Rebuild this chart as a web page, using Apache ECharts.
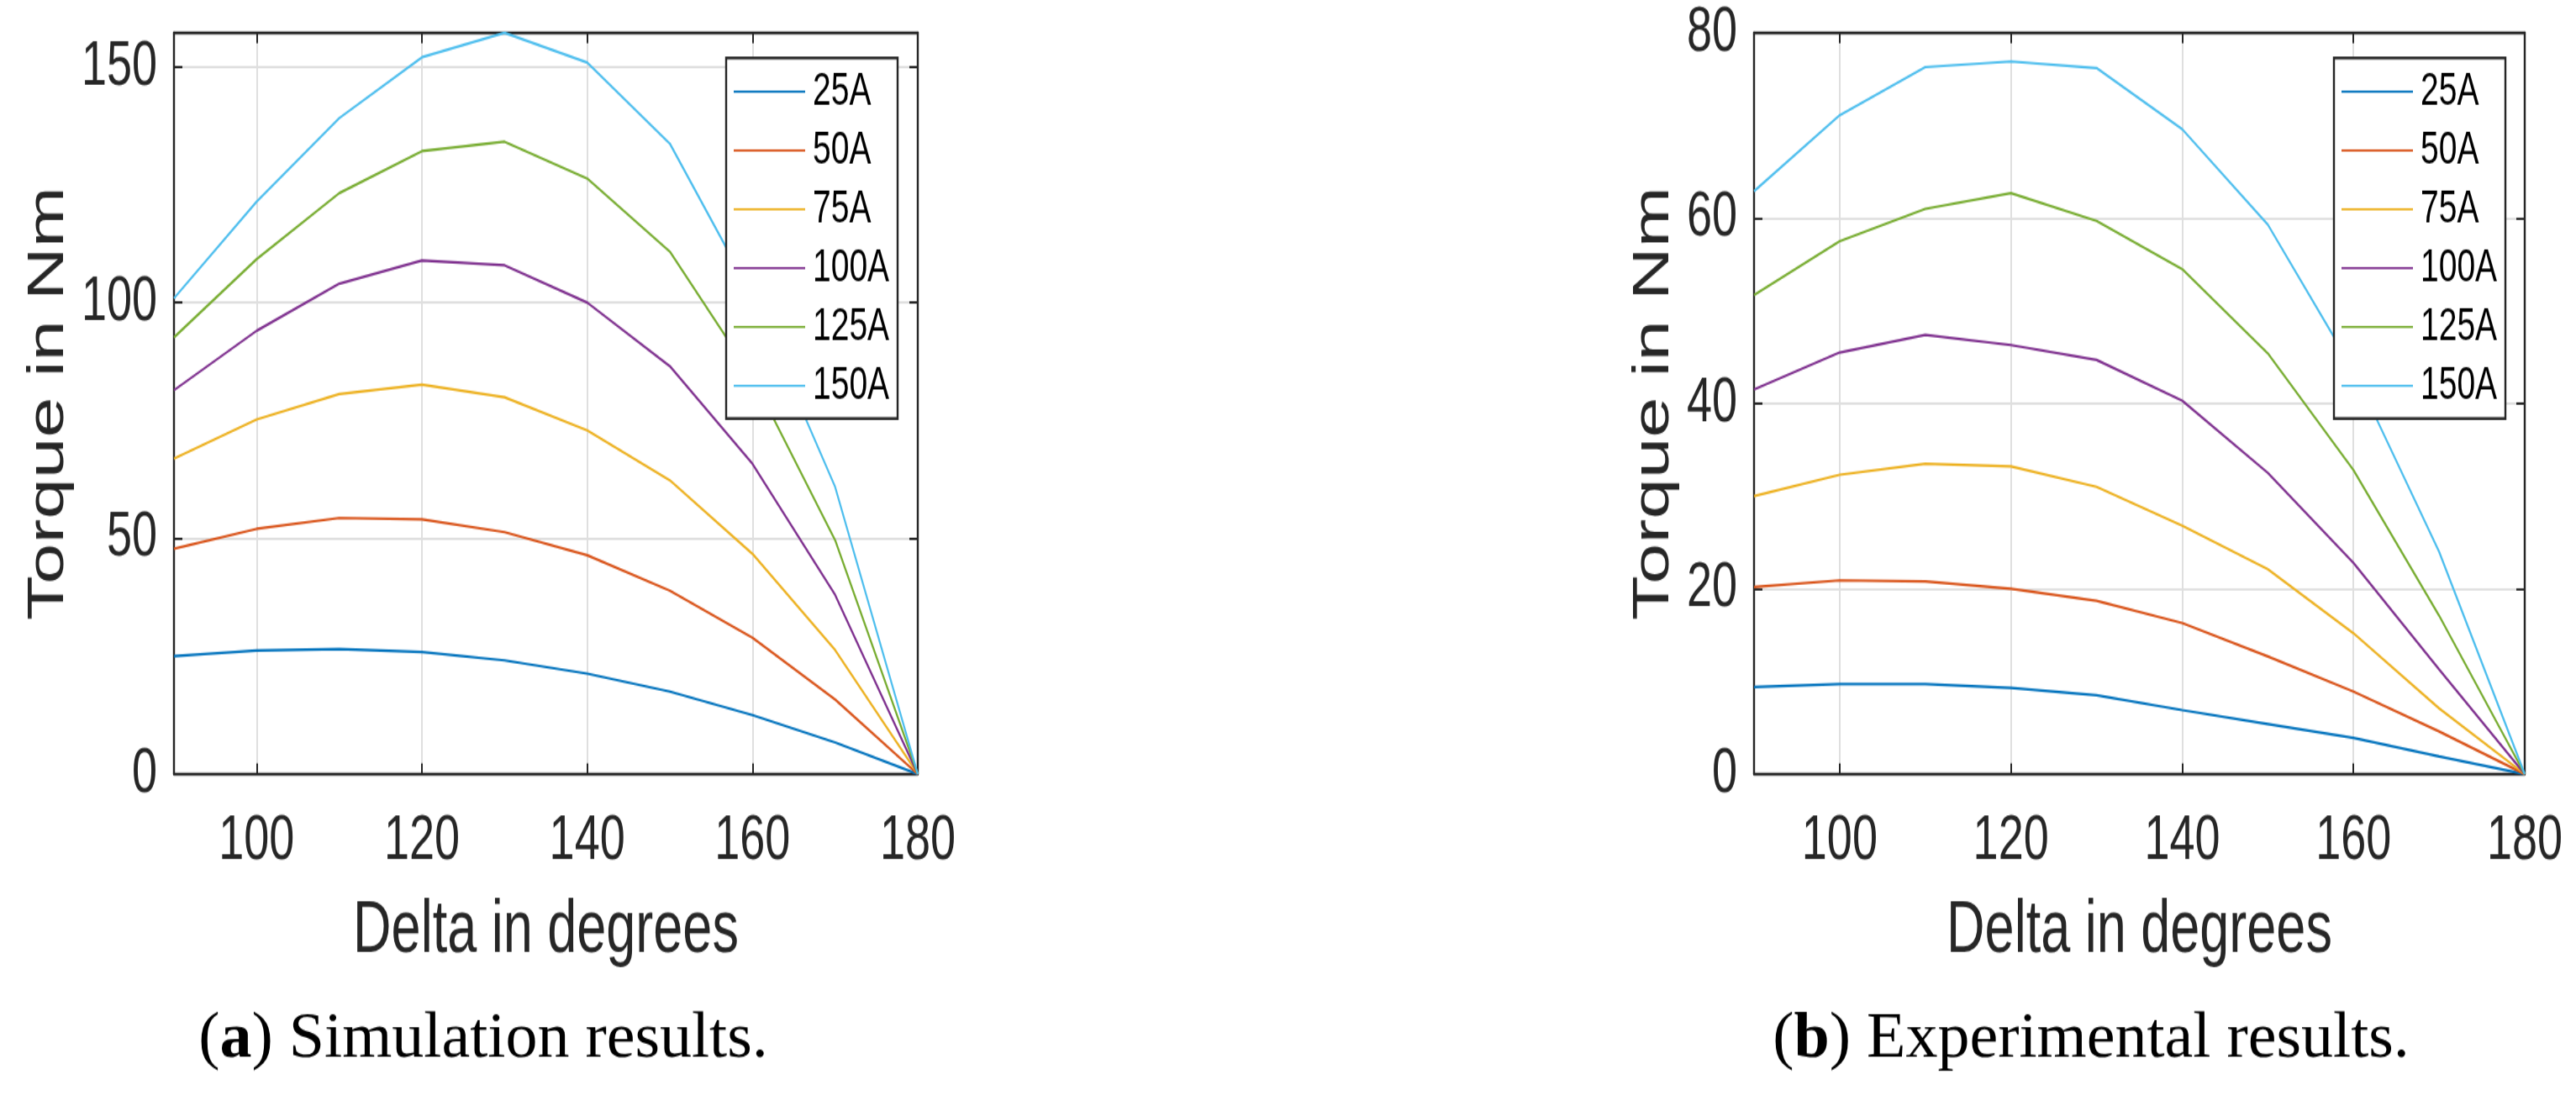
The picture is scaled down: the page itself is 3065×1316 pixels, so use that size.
<!DOCTYPE html>
<html>
<head>
<meta charset="utf-8">
<title>Torque vs delta</title>
<script src="https://cdn.jsdelivr.net/npm/echarts@6/dist/echarts.min.js"></script>
<style>
  html, body { margin: 0; padding: 0; background: #fff; }
  #page { width: 3065px; height: 1316px; overflow: hidden; position: relative; }
  /* the original figure is a vertically stretched MATLAB export,
     so the chart is drawn 1/1.4 as tall and stretched back */
  #main { width: 3065px; height: 940px; transform: scaleY(1.4); transform-origin: 0 0; }
</style>
</head>
<body>
<div id="page"><div id="main"></div></div>
<script>
var SY = 1.4; // vertical stretch

// load angle (deg) and current levels
var deltas = [90, 100, 110, 120, 130, 140, 150, 160, 170, 180];
var currents = ["25A", "50A", "75A", "100A", "125A", "150A"];
var xTicks = [100, 120, 140, 160, 180];
var simYTicks = [0, 50, 100, 150];
var expYTicks = [0, 20, 40, 60, 80];

// (a) simulation, torque in Nm
var sim25 = [25.0, 26.2, 26.5, 25.9, 24.1, 21.3, 17.5, 12.5, 6.7, 0];
var sim50 = [47.8, 52.0, 54.3, 54.0, 51.3, 46.4, 38.9, 28.9, 15.8, 0];
var sim75 = [66.9, 75.2, 80.6, 82.6, 79.9, 72.9, 62.3, 46.7, 26.3, 0];
var sim100 = [81.4, 94.0, 104.0, 108.9, 107.9, 100.0, 86.5, 65.8, 38.0, 0];
var sim125 = [92.6, 109.2, 123.2, 132.1, 134.1, 126.3, 110.8, 84.2, 49.6, 0];
var sim150 = [100.9, 121.4, 139.1, 152.0, 157.2, 150.9, 133.7, 101.4, 60.9, 0];

// (b) experiment, torque in Nm
var exp25 = [9.4, 9.7, 9.7, 9.3, 8.5, 6.9, 5.4, 3.9, 1.9, 0];
var exp50 = [20.2, 20.9, 20.8, 20.0, 18.7, 16.3, 12.7, 8.9, 4.6, 0];
var exp75 = [30.0, 32.3, 33.5, 33.2, 31.0, 26.8, 22.1, 15.2, 7.1, 0];
var exp100 = [41.5, 45.5, 47.4, 46.3, 44.7, 40.3, 32.5, 22.8, 11.3, 0];
var exp125 = [51.7, 57.5, 61.0, 62.7, 59.7, 54.5, 45.4, 32.8, 17.1, 0];
var exp150 = [62.9, 71.1, 76.3, 76.9, 76.2, 69.6, 59.3, 43.6, 24.0, 0];

var simSets = [sim25, sim50, sim75, sim100, sim125, sim150];
var expSets = [exp25, exp50, exp75, exp100, exp125, exp150];

var colors = ["#0072BD", "#D95319", "#EDB120", "#7E2F8E", "#77AC30", "#4DBEEE"];
var ink = "#262626";
var sans = "'Liberation Sans', Arial, Helvetica, sans-serif";

function pairs(vals) {
  return deltas.map(function (d, i) { return [d, vals[i]]; });
}

function xAxes(gridIndex) {
  var common = {
    type: "value", gridIndex: gridIndex, min: 90, max: 180,
    axisLine: { show: true, onZero: false, lineStyle: { color: ink, width: 2.4 } },
    axisTick: { show: true, inside: true, length: 9, customValues: xTicks, lineStyle: { color: ink, width: 2 } }
  };
  return [
    Object.assign({}, common, {
      position: "bottom",
      name: "Delta in degrees", nameLocation: "middle", nameGap: 102,
      nameTextStyle: { fontFamily: sans, fontSize: 63, color: ink },
      axisLabel: { customValues: xTicks, margin: 30, fontFamily: sans, fontSize: 54, color: ink },
      splitLine: { show: true, lineStyle: { color: "#dfdfdf", width: 2 } }
    }),
    Object.assign({}, common, {
      position: "top",
      axisLabel: { show: false }, splitLine: { show: false }
    })
  ];
}

function yAxes(gridIndex, maxVal, ticks, gap) {
  var common = {
    type: "value", gridIndex: gridIndex, min: 0, max: maxVal,
    axisLine: { show: true, onZero: false, lineStyle: { color: ink, width: 2.4 } },
    axisTick: { show: true, inside: true, length: 10, customValues: ticks, lineStyle: { color: ink, width: 2 } }
  };
  return [
    Object.assign({}, common, {
      position: "left",
      name: "Torque in Nm", nameLocation: "middle", nameGap: gap,
      nameTextStyle: { fontFamily: sans, fontSize: 62, color: ink },
      axisLabel: { customValues: ticks, margin: 20, fontFamily: sans, fontSize: 54, color: ink },
      splitLine: { show: true, lineStyle: { color: "#dfdfdf", width: 2 } }
    }),
    Object.assign({}, common, {
      position: "right",
      axisLabel: { show: false }, splitLine: { show: false }
    })
  ];
}

function legendAt(left) {
  return {
    orient: "vertical", left: left, top: 69 / SY, align: "left",
    icon: "rect", itemWidth: 85, itemHeight: 1.8, itemGap: 0,
    padding: [5 / SY, 9, 4 / SY, 9],
    backgroundColor: "#fff", borderColor: ink, borderWidth: 2.4, borderRadius: 0,
    data: currents,
    textStyle: { fontFamily: sans, fontSize: 39, color: "#000", lineHeight: 70 / SY, width: 92, padding: [0, 0, 0, 4] }
  };
}

var series = [];
currents.forEach(function (name, k) {
  series.push({
    name: name, type: "line", xAxisIndex: 0, yAxisIndex: 0,
    data: pairs(simSets[k]), showSymbol: false, silent: true,
    lineStyle: { color: colors[k], width: 2.2 }, itemStyle: { color: colors[k] }
  });
});
currents.forEach(function (name, k) {
  series.push({
    name: name, type: "line", xAxisIndex: 2, yAxisIndex: 2,
    data: pairs(expSets[k]), showSymbol: false, silent: true,
    lineStyle: { color: colors[k], width: 2.2 }, itemStyle: { color: colors[k] }
  });
});

// captions are not stretched, so undo the page stretch on them
var captionFont = "'Liberation Serif', 'DejaVu Serif', serif";
var captionRich = {
  n: { fontFamily: captionFont, fontSize: 76, fill: "#000" },
  b: { fontFamily: captionFont, fontSize: 76, fontWeight: "bold", fill: "#000" }
};

var myChart = echarts.init(document.getElementById("main"));
var option = {
  animation: false,
  backgroundColor: "#fff",
  color: colors,
  grid: [
    { left: 207, top: 39 / SY, width: 885, height: 882 / SY },
    { left: 2087, top: 39 / SY, width: 917, height: 882 / SY }
  ],
  xAxis: xAxes(0).concat(xAxes(1)),
  yAxis: yAxes(0, 157.2, simYTicks, 118).concat(yAxes(1, 80, expYTicks, 88)),
  legend: [legendAt(864), legendAt(2777)],
  series: series,
  graphic: [
    {
      type: "text", x: 575, y: 1237 / SY, scaleY: 1 / SY,
      style: { text: "{n|(}{b|a}{n|) Simulation results.}", rich: captionRich, align: "center", verticalAlign: "middle" }
    },
    {
      type: "text", x: 2488, y: 1237 / SY, scaleY: 1 / SY,
      style: { text: "{n|(}{b|b}{n|) Experimental results.}", rich: captionRich, align: "center", verticalAlign: "middle" }
    }
  ]
};

option && myChart.setOption(option);
</script>
</body>
</html>
